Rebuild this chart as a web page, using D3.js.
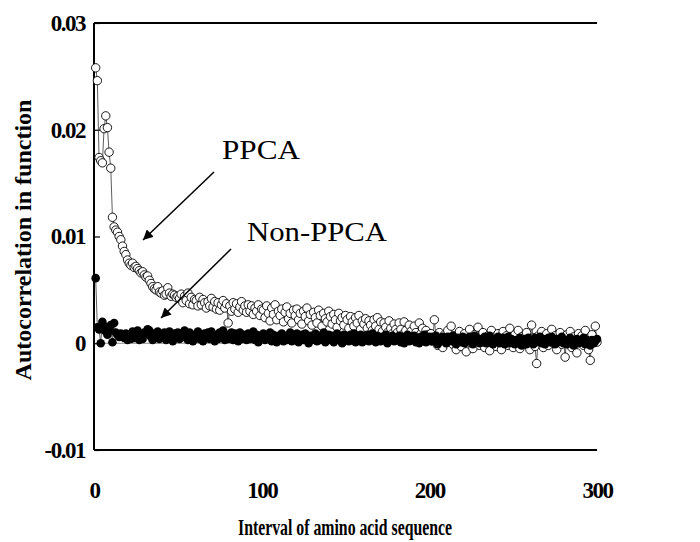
<!DOCTYPE html>
<html>
<head>
<meta charset="utf-8">
<script src="https://cdn.jsdelivr.net/npm/d3@7/dist/d3.min.js"></script>
<style>
  body { margin: 0; background: #fff; }
  .tick text { font-family: "Liberation Serif", serif; font-weight: bold; font-size: 23px; letter-spacing: -1.5px; fill: #000; }
</style>
</head>
<body>
<div id="chart"></div>
<script>
// lag 1..300
var ppca = [
  0.0258,0.0246,0.0174,0.0171,0.0169,0.0201,0.0213,0.0202,0.0179,0.0164,
  0.0118,0.0109,0.0106,0.0104,0.0100,0.0097,0.0091,0.0086,0.0083,0.0078,
  0.0075,0.0073,0.0075,0.0071,0.0072,0.0070,0.0068,0.0066,0.0067,0.0064,
  0.0062,0.0063,0.0059,0.0056,0.0053,0.0051,0.0050,0.0053,0.0048,0.0047,
  0.0049,0.0045,0.0046,0.0052,0.0047,0.0044,0.0046,0.0045,0.0043,0.0044,
  0.0042,0.0046,0.0038,0.0044,0.0040,0.0047,0.0037,0.0043,0.0036,0.0041,
  0.0040,0.0035,0.0043,0.0036,0.0041,0.0038,0.0033,0.0039,0.0035,0.0042,
  0.0034,0.0039,0.0032,0.0038,0.0031,0.0036,0.0040,0.0033,0.0037,0.0019,
  0.0035,0.0030,0.0038,0.0032,0.0037,0.0029,0.0034,0.0039,0.0031,0.0035,
  0.0029,0.0036,0.0030,0.0035,0.0027,0.0033,0.0030,0.0036,0.0026,0.0032,
  0.0031,0.0024,0.0035,0.0028,0.0021,0.0033,0.0027,0.0036,0.0022,0.0030,
  0.0026,0.0032,0.0020,0.0029,0.0034,0.0023,0.0028,0.0019,0.0031,0.0026,
  0.0032,0.0022,0.0028,0.0018,0.0030,0.0025,0.0033,0.0021,0.0027,0.0017,
  0.0029,0.0024,0.0019,0.0031,0.0026,0.0016,0.0028,0.0023,0.0020,0.0030,
  0.0025,0.0018,0.0027,0.0022,0.0015,0.0028,0.0021,0.0024,0.0017,0.0026,
  0.0022,0.0014,0.0025,0.0020,0.0016,0.0024,0.0019,0.0026,0.0013,0.0021,
  0.0018,0.0023,0.0014,0.0021,0.0017,0.0012,0.0022,0.0016,0.0024,0.0013,
  0.0020,0.0011,0.0019,0.0015,0.0010,0.0021,0.0014,0.0009,0.0018,0.0013,
  0.0010,0.0019,0.0013,0.0008,0.0020,0.0012,0.0007,0.0017,0.0011,0.0006,
  0.0016,0.0010,0.0005,0.0019,0.0009,0.0014,0.0004,0.0012,0.0008,0.0003,
  0.0009,0.0002,0.0022,0.0006,-0.0002,0.0010,0.0004,-0.0004,0.0008,0.0001,
  0.0012,0.0005,0.0016,-0.0001,0.0007,-0.0006,0.0003,0.0011,-0.0003,0.0006,
  0.0009,-0.0008,0.0004,0.0013,0.0000,-0.0005,0.0008,0.0002,0.0015,-0.0002,
  0.0005,0.0010,-0.0004,0.0003,0.0007,-0.0007,0.0012,0.0001,0.0006,-0.0003,
  0.0009,0.0004,-0.0006,0.0011,0.0002,0.0007,-0.0002,0.0014,0.0003,-0.0004,
  0.0008,0.0001,0.0012,-0.0005,0.0006,0.0003,-0.0001,0.0010,0.0004,-0.0006,
  0.0017,0.0005,-0.0003,-0.0019,0.0007,0.0002,0.0011,-0.0004,0.0006,0.0009,
  -0.0002,0.0004,0.0013,0.0000,0.0007,-0.0006,0.0003,0.0010,-0.0001,0.0005,
  -0.0013,0.0008,0.0002,0.0011,-0.0004,0.0006,0.0001,-0.0009,0.0009,0.0003,
  0.0007,-0.0002,0.0012,0.0004,-0.0006,-0.0016,0.0008,0.0002,0.0016,0.0001
];

var nonPpca = [
  0.0061,0.0015,0.0013,0.0000,0.0020,0.0016,0.0011,0.0008,0.0012,0.0017,
  0.0001,0.0019,0.0010,0.0008,0.0006,0.0009,0.0007,0.0005,0.0009,0.0003,
  0.0008,0.0004,0.0011,0.0005,0.0009,0.0012,0.0003,0.0008,0.0004,0.0010,
  0.0009,0.0013,0.0012,0.0006,0.0003,0.0009,0.0005,0.0011,0.0004,0.0008,
  0.0006,0.0010,0.0003,0.0008,0.0011,0.0005,0.0002,0.0009,0.0006,0.0010,
  0.0004,0.0009,0.0006,0.0012,0.0007,0.0003,0.0010,0.0005,0.0002,0.0008,
  0.0006,0.0011,0.0004,0.0008,0.0002,0.0009,0.0005,0.0010,0.0004,0.0011,
  0.0006,0.0002,0.0008,0.0004,0.0010,0.0006,0.0012,0.0003,0.0008,0.0004,
  0.0007,0.0010,0.0003,0.0009,0.0006,0.0002,0.0010,0.0004,0.0008,0.0006,
  0.0003,0.0009,0.0004,0.0007,0.0011,0.0003,0.0008,0.0001,0.0007,0.0005,
  0.0009,0.0003,0.0007,0.0004,0.0010,0.0002,0.0008,0.0006,0.0001,0.0007,
  0.0004,0.0009,0.0002,0.0007,0.0003,0.0005,0.0010,0.0002,0.0008,0.0004,
  0.0009,0.0001,0.0006,0.0008,0.0003,0.0009,0.0004,0.0000,0.0007,0.0003,
  0.0005,0.0009,0.0002,0.0007,0.0003,0.0006,0.0010,0.0001,0.0005,0.0008,
  0.0003,0.0007,0.0001,0.0006,0.0009,0.0003,0.0005,0.0000,0.0008,0.0003,
  0.0006,0.0002,0.0008,0.0003,0.0009,0.0001,0.0006,0.0004,0.0008,0.0001,
  0.0005,0.0003,0.0008,0.0002,0.0006,0.0009,0.0003,0.0001,0.0007,0.0004,
  0.0002,0.0006,0.0003,0.0008,0.0000,0.0006,0.0003,0.0007,0.0002,0.0005,
  0.0003,0.0007,0.0001,0.0006,0.0000,0.0004,0.0008,0.0002,0.0005,0.0003,
  0.0007,0.0001,0.0004,0.0000,0.0006,0.0003,0.0008,0.0001,0.0004,0.0006,
  0.0002,0.0006,0.0003,0.0007,-0.0001,0.0004,0.0002,0.0006,0.0003,0.0000,
  0.0006,0.0002,0.0004,0.0007,0.0001,-0.0001,0.0005,0.0003,0.0001,0.0006,
  0.0000,0.0004,0.0002,0.0006,0.0003,-0.0001,0.0007,0.0002,0.0004,0.0000,
  0.0004,0.0001,0.0006,0.0000,0.0004,0.0007,0.0002,-0.0001,0.0004,0.0002,
  0.0006,0.0000,0.0002,0.0005,-0.0001,0.0003,0.0006,0.0000,0.0004,0.0002,
  -0.0001,0.0003,0.0001,0.0005,-0.0002,0.0002,0.0004,-0.0001,0.0005,0.0001,
  0.0003,-0.0001,0.0005,0.0001,0.0003,0.0006,0.0000,0.0004,-0.0001,0.0003,
  0.0005,0.0001,0.0006,0.0002,-0.0001,0.0004,0.0001,0.0003,0.0006,0.0000,
  0.0003,-0.0001,0.0002,0.0005,0.0002,-0.0002,0.0001,0.0004,0.0000,0.0003,
  0.0001,0.0005,-0.0001,0.0003,0.0002,-0.0002,0.0003,0.0000,0.0002,0.0004
];

var yTicks = [-0.01, 0, 0.01, 0.02, 0.03];
var yTickLabels = ["-0.01", "0", "0.01", "0.02", "0.03"];
var xTicks = [0, 100, 200, 300];

var width = 700, height = 542;
var margin = {top: 23, right: 103, bottom: 92, left: 94};

var x = d3.scaleLinear().domain([0, 300]).range([margin.left, width - margin.right]);
var y = d3.scaleLinear().domain([-0.01, 0.03]).range([height - margin.bottom, margin.top]);

var svg = d3.select("#chart").append("svg")
    .attr("width", width)
    .attr("height", height);

// zero line
svg.append("line")
    .attr("x1", x(0)).attr("x2", x(300))
    .attr("y1", y(0)).attr("y2", y(0))
    .attr("stroke", "#888").attr("stroke-width", 1);

// top border
svg.append("line")
    .attr("x1", x(0)).attr("x2", x(300))
    .attr("y1", y(0.03)).attr("y2", y(0.03))
    .attr("stroke", "#000").attr("stroke-width", 2);

var yAxis = d3.axisLeft(y)
    .tickValues(yTicks)
    .tickSize(-6)
    .tickPadding(9)
    .tickFormat(function(d, i) { return yTickLabels[i]; });

var xAxis = d3.axisBottom(x)
    .tickValues(xTicks)
    .tickSize(0)
    .tickPadding(32)
    .tickFormat(d3.format("d"));

var gy = svg.append("g")
    .attr("transform", "translate(" + x(0) + ",0)")
    .call(yAxis);
gy.select(".domain").attr("stroke-width", 2).attr("d", "M0," + y(-0.01) + "V" + y(0.03));
gy.selectAll(".tick line").attr("stroke-width", 1.2);

var gx = svg.append("g")
    .attr("transform", "translate(0," + y(-0.01) + ")")
    .call(xAxis);
gx.select(".domain").attr("stroke-width", 2).attr("d", "M" + x(0) + ",0H" + x(300));

// series
var line = d3.line()
    .x(function(d, i) { return x(i + 1); })
    .y(function(d) { return y(d); });

svg.append("path")
    .datum(ppca)
    .attr("fill", "none")
    .attr("stroke", "#333")
    .attr("stroke-width", 0.8)
    .attr("d", line);

svg.selectAll(".ppca")
    .data(ppca)
  .enter().append("circle")
    .attr("class", "ppca")
    .attr("cx", function(d, i) { return x(i + 1); })
    .attr("cy", function(d) { return y(d); })
    .attr("r", 4.2)
    .attr("fill", "#fff")
    .attr("stroke", "#000")
    .attr("stroke-width", 0.9);

svg.append("path")
    .datum(nonPpca)
    .attr("fill", "none")
    .attr("stroke", "#333")
    .attr("stroke-width", 0.8)
    .attr("d", line);

svg.selectAll(".nonppca")
    .data(nonPpca)
  .enter().append("circle")
    .attr("class", "nonppca")
    .attr("cx", function(d, i) { return x(i + 1); })
    .attr("cy", function(d) { return y(d); })
    .attr("r", 4.3)
    .attr("fill", "#000");

// annotations
var defs = svg.append("defs");
defs.append("marker")
    .attr("id", "arrow")
    .attr("viewBox", "0 0 10 10")
    .attr("refX", 10).attr("refY", 5)
    .attr("markerWidth", 10).attr("markerHeight", 10)
    .attr("markerUnits", "userSpaceOnUse")
    .attr("orient", "auto")
  .append("path")
    .attr("d", "M0,0L10,5L0,10z")
    .attr("fill", "#000");

var notes = [
  {label: "PPCA", tx: 222, ty: 159, len: 78, x1: 214, y1: 172, x2: 143, y2: 240},
  {label: "Non-PPCA", tx: 247, ty: 241, len: 140, x1: 231, y1: 249, x2: 161, y2: 318}
];

notes.forEach(function(n) {
  svg.append("text")
      .attr("x", n.tx).attr("y", n.ty)
      .attr("font-family", "Liberation Serif, serif")
      .attr("font-size", 28)
      .attr("textLength", n.len)
      .attr("lengthAdjust", "spacingAndGlyphs")
      .text(n.label);
  svg.append("line")
      .attr("x1", n.x1).attr("y1", n.y1)
      .attr("x2", n.x2).attr("y2", n.y2)
      .attr("stroke", "#000").attr("stroke-width", 1.5)
      .attr("marker-end", "url(#arrow)");
});

// axis titles
svg.append("text")
    .attr("x", 345).attr("y", 535)
    .attr("text-anchor", "middle")
    .attr("font-family", "Liberation Serif, serif")
    .attr("font-weight", "bold")
    .attr("font-size", 24)
    .attr("textLength", 214)
    .attr("lengthAdjust", "spacingAndGlyphs")
    .text("Interval of amino acid sequence");

svg.append("text")
    .attr("transform", "translate(31,240) rotate(-90)")
    .attr("text-anchor", "middle")
    .attr("font-family", "Liberation Serif, serif")
    .attr("font-weight", "bold")
    .attr("font-size", 24)
    .text("Autocorrelation in function");
</script>
</body>
</html>
